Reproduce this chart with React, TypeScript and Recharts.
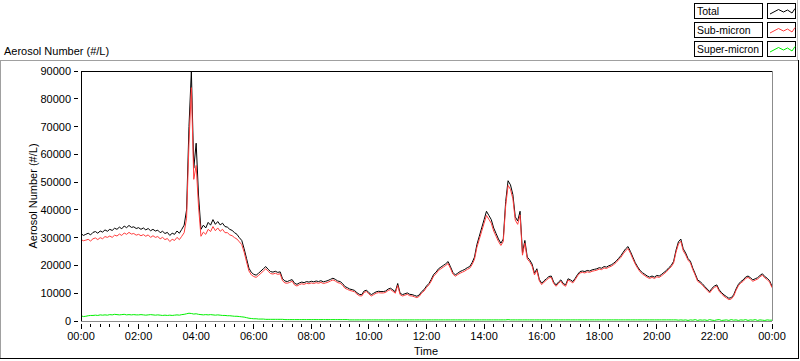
import { LineChart, Line, XAxis, YAxis, ReferenceLine } from 'recharts';

// one reading every 5 minutes, 00:00 .. 24:00
const STEP_MIN = 5;

const total = [
  31500, 30800, 31200, 31600, 31000, 31900, 32200, 31600, 32400, 32000, 32800, 32300,
  33000, 32600, 33400, 33000, 33800, 33200, 34200, 33600, 34400, 33700, 33900, 33300,
  33600, 33000, 33500, 32800, 33300, 32500, 33000, 32400, 32700, 31800, 32300, 31500,
  31900, 30800, 31600, 31200, 32400, 31600, 33000, 34500, 40000, 70000, 90000, 55000,
  64000, 45000, 33000, 34500, 33500, 35500, 34500, 36500, 34800, 35800, 34600, 35200,
  34000, 33800, 33000, 32600, 31800, 31200, 30000, 29000, 26000, 22500, 19000, 17500,
  16800, 16500, 17200, 18000, 18800, 19600, 18600, 17800, 17600, 17900, 17500, 17700,
  15200, 14400, 14200, 14600, 14900, 13600, 13200, 13700, 14000, 13800, 14200, 14000,
  14300, 14100, 14400, 14200, 14500, 14100, 14300, 14600, 15000, 15400, 15000, 14400,
  14200, 13500, 12400, 12000, 11500, 11300, 11000, 10200, 9600, 9500, 10800, 11100,
  10200, 9500, 10000, 10500, 10700, 10600, 10600, 10800, 11500, 11800, 11200, 10500,
  13500, 10000, 9500, 9800, 10100, 9600, 9500, 9200, 8900, 9400, 10600, 11300,
  12600, 13500, 15000, 16800, 17600, 18800, 19400, 20000, 20600, 21400, 19500, 17500,
  16600, 17200, 17800, 18200, 18600, 19200, 19600, 21000, 23000, 27500, 30500, 33500,
  36500, 39500, 38000, 36500, 33500, 31500, 29500, 28000, 29500, 43000, 50500, 49000,
  45500, 37500, 36000, 39500, 24500, 29000, 23000, 22000, 20500, 17200, 18800, 15000,
  13600, 14500, 15200, 16000, 16200, 14000, 13000, 14000, 14800, 13500, 13000, 15200,
  14800, 14200, 15400, 16800, 17800, 18000, 17800, 18200, 18000, 18400, 18600, 18800,
  19200, 19000, 19600, 19400, 19900, 20200, 20800, 21500, 22500, 23500, 24800, 26000,
  26800, 25000, 23000, 21000, 19500, 18200, 17400, 16800, 16200, 15800, 16200, 15800,
  16400, 16200, 16800, 17500, 18200, 19200, 20000, 21500, 25500, 28500, 29500, 26000,
  24500, 22500, 21500, 19000, 17000, 14800, 14200, 13400, 12400, 11500, 10600, 11800,
  12600, 13000, 11200, 10200, 9400, 8800, 8200, 8400, 9400, 11500, 13200, 14200,
  14800, 15800, 16200, 15600, 14800, 15200, 15600, 16400, 17000, 16000, 15400, 14500,
  12500,
];

const subMicron = [
  29300, 28900, 29100, 29400, 28800, 29600, 29900, 29300, 30000, 29600, 30400, 30100,
  30600, 30100, 30900, 30600, 31300, 30800, 31700, 31200, 31900, 31300, 31500, 30900,
  31200, 30700, 31100, 30500, 31000, 30100, 30700, 30100, 30400, 29600, 30100, 29300,
  29700, 28600, 29400, 29000, 30100, 29300, 30500, 31800, 37000, 64000, 84000, 51000,
  56000, 41000, 30500, 32000, 31200, 33000, 32200, 34000, 32500, 33500, 32300, 33000,
  31800, 31800, 31000, 30700, 30000, 29500, 28500, 27500, 24800, 21300, 18000, 16600,
  16000, 15700, 16400, 17200, 18000, 18800, 17900, 17100, 16900, 17200, 16800, 17000,
  14500, 13700, 13600, 13900, 14300, 13000, 12600, 13100, 13400, 13200, 13600, 13400,
  13700, 13500, 13800, 13600, 13900, 13500, 13700, 14000, 14400, 14800, 14400, 13800,
  13600, 12900, 11800, 11400, 11000, 10800, 10500, 9700, 9100, 9000, 10300, 10600,
  9700, 9000, 9500, 10000, 10200, 10100, 10100, 10300, 11000, 11300, 10700, 10000,
  12800, 9500, 9000, 9300, 9600, 9100, 9000, 8700, 8400, 8900, 10100, 10800,
  12100, 13000, 14400, 16200, 17000, 18200, 18800, 19400, 20000, 20700, 18900, 16900,
  16100, 16700, 17200, 17600, 18000, 18600, 19000, 20300, 22200, 26500, 29400, 32300,
  35200, 38000, 36600, 35200, 32400, 30500, 28600, 27200, 28600, 41500, 48800, 47400,
  44000, 36300, 34800, 38200, 23700, 28000, 22300, 21300, 19800, 16600, 18200, 14500,
  13100, 14000, 14700, 15500, 15700, 13500, 12500, 13500, 14300, 13000, 12500, 14700,
  14300, 13700, 14900, 16300, 17300, 17500, 17300, 17700, 17500, 17900, 18100, 18300,
  18700, 18500, 19100, 18900, 19400, 19700, 20300, 21000, 22000, 22900, 24200, 25300,
  26100, 24400, 22400, 20500, 19000, 17700, 16900, 16300, 15700, 15300, 15700, 15300,
  15900, 15700, 16300, 17000, 17700, 18700, 19500, 20900, 24800, 27700, 28700, 25300,
  23800, 21900, 20900, 18500, 16500, 14300, 13700, 12900, 11900, 11000, 10100, 11300,
  12100, 12500, 10700, 9700, 8900, 8300, 7700, 7900, 8900, 11000, 12700, 13700,
  14300, 15300, 15700, 15100, 14300, 14700, 15100, 15900, 16500, 15500, 14900, 14000,
  12000,
];

const superMicron = [
  1900, 1600, 1700, 1900, 2000, 2000, 2100, 2000, 2200, 2100, 2200, 2100,
  2300, 2200, 2400, 2300, 2200, 2300, 2400, 2200, 2300, 2200, 2300, 2200,
  2200, 2300, 2200, 2100, 2200, 2300, 2200, 2100, 2200, 2100, 2000, 2100,
  2000, 2100, 2000, 2100, 2200, 2100, 2300, 2400, 2600, 2800, 2700, 2500,
  2600, 2400, 2300, 2200, 2300, 2200, 2300, 2200, 2100, 2200, 2100, 2000,
  2000, 1900, 1900, 1800, 1700, 1700, 1600, 1500, 1400, 1200, 1000, 900,
  800, 800, 700, 700, 700, 600, 600, 600, 600, 600, 600, 600,
  600, 500, 500, 500, 500, 500, 500, 500, 500, 500, 500, 500,
  500, 500, 500, 500, 500, 500, 500, 500, 500, 500, 500, 500,
  500, 500, 500, 500, 400, 400, 400, 400, 400, 400, 400, 400,
  400, 400, 400, 400, 400, 400, 400, 400, 400, 400, 400, 400,
  400, 400, 400, 400, 400, 400, 400, 400, 400, 400, 400, 400,
  400, 400, 400, 400, 400, 400, 400, 400, 400, 400, 400, 400,
  400, 400, 400, 400, 400, 400, 400, 400, 400, 400, 400, 400,
  400, 400, 400, 400, 400, 400, 400, 400, 400, 400, 500, 400,
  400, 400, 400, 400, 400, 400, 400, 400, 400, 400, 400, 400,
  400, 400, 400, 400, 400, 400, 400, 400, 400, 400, 400, 400,
  400, 400, 400, 400, 400, 400, 400, 400, 400, 400, 400, 400,
  400, 400, 400, 400, 400, 400, 400, 400, 400, 400, 400, 400,
  400, 400, 400, 400, 400, 400, 400, 400, 400, 400, 400, 400,
  400, 400, 400, 400, 400, 400, 400, 400, 400, 300, 400, 300,
  400, 200, 400, 300, 500, 200, 400, 300, 400, 200, 500, 300,
  200, 400, 500, 200, 300, 400, 200, 500, 300, 400, 200, 400,
  300, 500, 200, 400, 300, 500, 200, 400, 300, 200, 400, 300,
  300,
];

const seriesNames = ['Total', 'Sub-micron', 'Super-micron'];
const seriesKeys = ['total', 'sub', 'super'];
const seriesColors = ['#000000', '#ff3c3c', '#00f000'];

const yTicks = [0, 10000, 20000, 30000, 40000, 50000, 60000, 70000, 80000, 90000];
const xLabels = ['00:00', '02:00', '04:00', '06:00', '08:00', '10:00', '12:00', '14:00', '16:00', '18:00', '20:00', '22:00', '00:00'];
const xTicks = Array.from({ length: 73 }, (_, i) => i * 20);

const data = total.map((v, i) => ({
  t: i * STEP_MIN,
  total: v,
  sub: subMicron[i],
  super: superMicron[i],
}));

const FONT = '"Liberation Sans", Arial, sans-serif';

function XTick(props: any) {
  const { x, y, payload } = props;
  const m = payload.value;
  const major = m % 120 === 0;
  return (
    <g>
      <line x1={x} x2={x} y1={y + 3} y2={y + (major ? 8 : 6)} stroke="#000" shapeRendering="crispEdges" />
      {major && (
        <text x={x} y={y + 19} textAnchor="middle" fontSize={11} fill="#000">
          {xLabels[m / 120]}
        </text>
      )}
    </g>
  );
}

function YTick(props: any) {
  const { x, y, payload } = props;
  return (
    <g>
      <line x1={x - 7} x2={x - 3} y1={y} y2={y} stroke="#000" shapeRendering="crispEdges" />
      <text x={x - 10} y={y + 4} textAnchor="end" fontSize={11} fill="#000">
        {payload.value}
      </text>
    </g>
  );
}

function YTitle() {
  return (
    <text x={33} y={196} transform="rotate(-90 33 196)" textAnchor="middle" dominantBaseline="central" fontSize={11} fill="#000">
      Aerosol Number (#/L)
    </text>
  );
}

function XTitle() {
  return (
    <text x={426} y={355} textAnchor="middle" fontSize={11} fill="#000">
      Time
    </text>
  );
}

function Overlay() {
  const zig = '2.5,10.5 11,6 16,8.5 20,6.5 24.5,9.5 27.5,5';
  return (
    <svg width={800} height={361} style={{ position: 'absolute', left: 0, top: 0, pointerEvents: 'none' }}>
      <text x={4} y={55} fontSize={11} fill="#000">Aerosol Number (#/L)</text>
      {/* panel frame */}
      <line x1={0} x2={798} y1={60.5} y2={60.5} stroke="#a0a0a0" />
      <line x1={0.5} x2={0.5} y1={60} y2={358} stroke="#a0a0a0" />
      <line x1={0} x2={799} y1={358.5} y2={358.5} stroke="#000" />
      <line x1={798.5} x2={798.5} y1={60} y2={359} stroke="#000" />
      <line x1={797.5} x2={797.5} y1={0} y2={60} stroke="#c0c0c0" />
      {seriesNames.map((name, i) => {
        const top = 3.5 + i * 19;
        return (
          <g key={name}>
            <rect x={694.5} y={top} width={68} height={15} fill="#fff" stroke="#000" />
            <text x={697} y={top + 11.5} fontSize={10.5} textLength={name.length > 10 ? 62 : undefined} lengthAdjust="spacingAndGlyphs" fill="#000">
              {name}
            </text>
            <rect x={767.5} y={top} width={28} height={15} fill="#fff" stroke="#000" />
            <polyline
              points={zig}
              transform={`translate(767.5 ${top})`}
              fill="none"
              stroke={seriesColors[i]}
              strokeWidth={1}
            />
          </g>
        );
      })}
    </svg>
  );
}

export default function App() {
  return (
    <div style={{ position: 'absolute', left: 0, top: 0, width: 800, height: 361, background: '#fff', fontFamily: FONT }}>
      <LineChart width={800} height={361} data={data} margin={{ top: 71, right: 28, bottom: 0, left: 0 }}>
        <XAxis
          dataKey="t"
          type="number"
          domain={[0, 1440]}
          ticks={xTicks}
          interval={0}
          height={40}
          tickSize={0}
          tickMargin={0}
          tickLine={false}
          tick={<XTick />}
          axisLine={{ stroke: '#8c8c8c', shapeRendering: 'crispEdges' }}
          label={<XTitle />}
          allowDataOverflow
        />
        <YAxis
          type="number"
          domain={[0, 90000]}
          ticks={yTicks}
          interval={0}
          width={81}
          tickSize={0}
          tickMargin={0}
          tickLine={false}
          tick={<YTick />}
          axisLine={{ stroke: '#000', shapeRendering: 'crispEdges' }}
          label={<YTitle />}
          allowDataOverflow
        />
        <ReferenceLine y={90000} stroke="#000" shapeRendering="crispEdges" />
        <ReferenceLine x={1440} stroke="#8c8c8c" shapeRendering="crispEdges" />
        {seriesKeys.map((k, i) => (
          <Line
            key={k}
            dataKey={k}
            name={seriesNames[i]}
            type="linear"
            stroke={seriesColors[i]}
            strokeWidth={1}
            dot={false}
            activeDot={false}
            isAnimationActive={false}
          />
        ))}
      </LineChart>
      <Overlay />
    </div>
  );
}
